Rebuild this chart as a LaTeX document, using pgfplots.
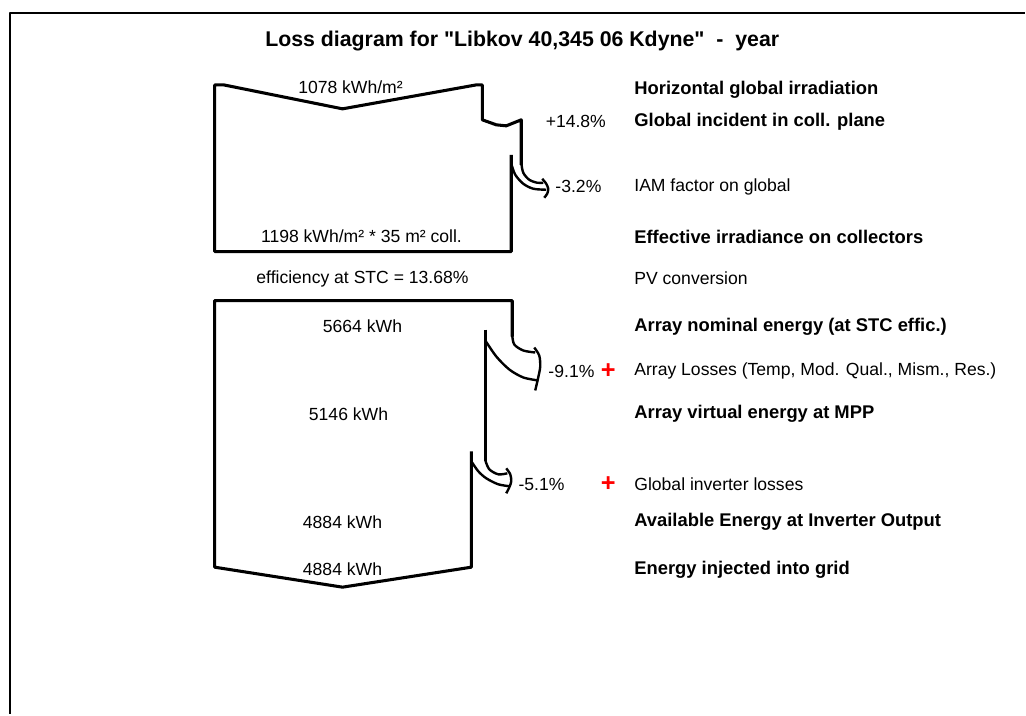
\documentclass[border=0pt]{standalone}
\usepackage{pgfplots}
\pgfplotsset{compat=1.18}
\usepackage{fontspec}
\setmainfont{Liberation Sans}
\begin{document}
\begin{tikzpicture}[
  reg/.style={inner sep=0pt, yshift=-1.4pt, font=\fontsize{13.2pt}{15pt}\selectfont},
  bld/.style={inner sep=0pt, yshift=-1.4pt, font=\fontsize{13.8pt}{15pt}\selectfont\bfseries},
  plus/.style={inner sep=0pt, yshift=-1.4pt, text=red, font=\fontsize{19pt}{19pt}\selectfont\bfseries},
]
\begin{axis}[
  width=769.5pt, height=536.25pt, scale only axis,
  xmin=0, xmax=1026, ymin=0, ymax=715, y dir=reverse,
  hide axis, clip=false,
  every axis plot/.append style={black, line join=round},
]
\addplot[draw=none, forget plot] coordinates {(0,0) (1026,715)};
% frame
\addplot[line width=2.2pt] coordinates {(10,715) (10,13) (1026,13)};
% ---- irradiance box
\addplot[line width=2.3pt] coordinates {(522,165) (522,120) (507,126) (497,125) (483,120) (483,85) (477,85) (343,109) (224,85) (215,85) (215,252) (512,252) (512,155)};
% IAM loss arrow
\addplot[line width=1.8pt, smooth] coordinates {(522,163) (524,173) (530,180) (538,183) (544,183)};
\addplot[line width=1.8pt, smooth] coordinates {(543,179) (547,184) (549,189) (548,194) (545,198)};
\addplot[line width=1.8pt, smooth] coordinates {(512,164) (516,175) (524,184) (534,189) (547,190)};
% ---- energy box
\addplot[line width=2.3pt] coordinates {(513,337) (513,301) (215,301) (215,568) (343,588) (472,568) (472,452)};
\addplot[line width=2.3pt] coordinates {(486,330) (486,462)};
% array loss arrow
\addplot[line width=1.8pt, smooth] coordinates {(513,336) (515,345) (524,351) (536,353)};
\addplot[line width=1.8pt, smooth] coordinates {(535,348) (540,356) (541,367) (539,378) (536,391)};
\addplot[line width=1.8pt, smooth] coordinates {(486,341) (497,357) (510,370) (524,378) (539,381)};
% inverter loss arrow
\addplot[line width=1.8pt, smooth] coordinates {(486,461) (490,470) (499,475) (508,474)};
\addplot[line width=1.8pt, smooth] coordinates {(507,469) (511,475) (512,482) (510,488) (507,494)};
\addplot[line width=1.8pt, smooth] coordinates {(472,462) (479,472) (487,479) (499,485) (511,487)};

% title
\node[inner sep=0pt, yshift=-1pt, font=\fontsize{16pt}{18pt}\selectfont\bfseries] at (axis cs:523,40) {Loss diagram for \textquotedbl Libkov 40,345 06 Kdyne\textquotedbl~~-~~year};

% box texts
\node[reg] at (axis cs:351,85) {1078 kWh/m²};
\node[reg] at (axis cs:362,235) {1198 kWh/m² * 35 m² coll.};
\node[reg] at (axis cs:363,277) {efficiency at STC = 13.68\%};
\node[reg] at (axis cs:363,325) {5664 kWh};
\node[reg] at (axis cs:349,413) {5146 kWh};
\node[reg] at (axis cs:343,521) {4884 kWh};
\node[reg] at (axis cs:343,568) {4884 kWh};

% percentages
\node[reg, anchor=east] at (axis cs:607,120) {+14.8\%};
\node[reg, anchor=west] at (axis cs:556,185) {-3.2\%};
\node[reg, anchor=west] at (axis cs:549,370) {-9.1\%};
\node[reg, anchor=west] at (axis cs:519,483) {-5.1\%};
\node[plus] at (axis cs:609,370) {+};
\node[plus] at (axis cs:609,483) {+};

% right labels
\node[bld, anchor=west] at (axis cs:635,88) {Horizontal global irradiation};
\node[bld, anchor=west] at (axis cs:635,120) {Global incident in coll. plane};
\node[reg, anchor=west] at (axis cs:635,185) {IAM factor on global};
\node[bld, anchor=west] at (axis cs:635,235) {Effective irradiance on collectors};
\node[reg, anchor=west] at (axis cs:635,277) {PV conversion};
\node[bld, anchor=west] at (axis cs:635,325) {Array nominal energy (at STC effic.)};
\node[reg, anchor=west] at (axis cs:635,370) {Array Losses (Temp, Mod. Qual., Mism., Res.)};
\node[bld, anchor=west] at (axis cs:635,413) {Array virtual energy at MPP};
\node[reg, anchor=west] at (axis cs:635,483) {Global inverter losses};
\node[bld, anchor=west] at (axis cs:635,521) {Available Energy at Inverter Output};
\node[bld, anchor=west] at (axis cs:635,569) {Energy injected into grid};
\end{axis}
\end{tikzpicture}
\end{document}
